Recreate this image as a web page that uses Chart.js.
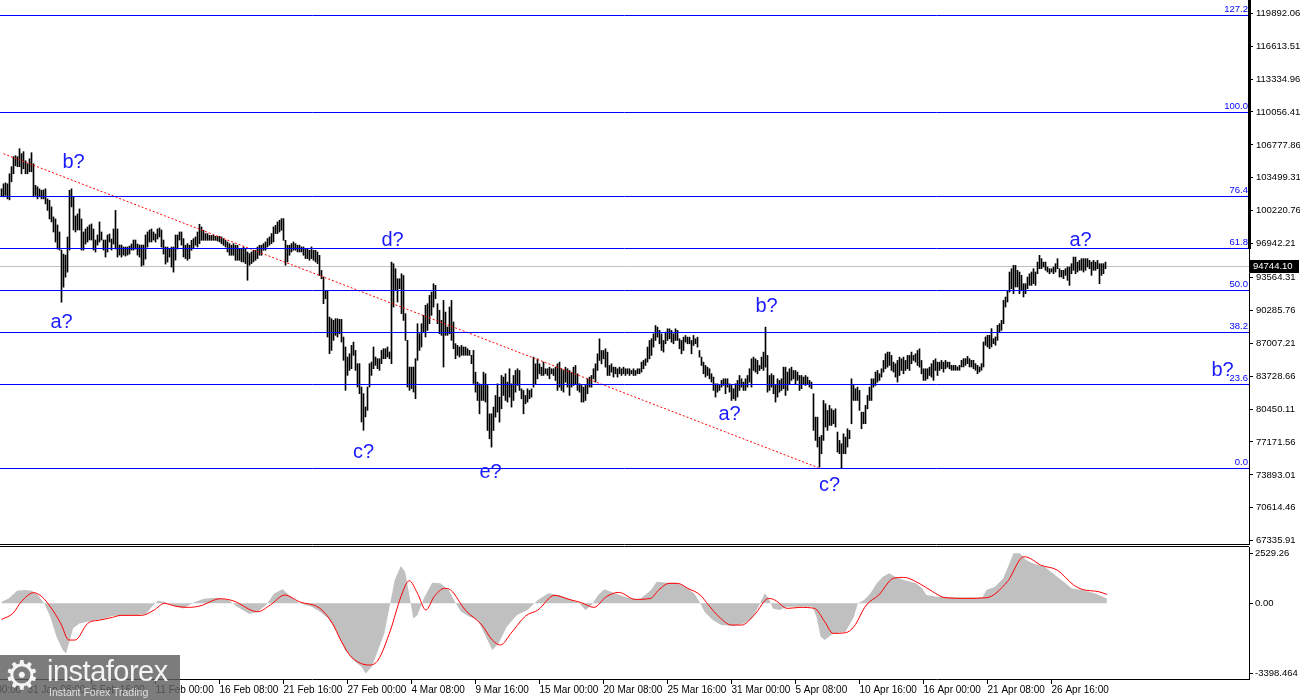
<!DOCTYPE html>
<html>
<head>
<meta charset="utf-8">
<script src="https://cdn.jsdelivr.net/npm/chart.js@4.4.1/dist/chart.umd.min.js"></script>
<style>
  html, body { margin: 0; padding: 0; background: #fff; }
  #wrap { position: relative; width: 1300px; height: 700px; overflow: hidden; }
  #main { position: absolute; left: 0; top: 0; }
  #macd { position: absolute; left: 0; top: 546px; }
  #logo { position: absolute; left: 0; top: 655px; width: 180px; height: 45px;
          background: rgba(95, 95, 95, 0.82); color: #eeeeee;
          font-family: "Liberation Sans", Arial, sans-serif; }
  #logo .gear { position: absolute; left: 4px; top: -3px; font-size: 40px; font-family: "DejaVu Sans", sans-serif; color: #f4f4f4; }
  #logo .name { position: absolute; left: 47px; top: 0px; font-size: 29px; letter-spacing: -0.5px; color: #f4f4f4; }
  #logo .sub { position: absolute; left: 49px; top: 31px; font-size: 10.5px; color: #e0e0e0; }
</style>
</head>
<body>
<div id="wrap">
  <canvas id="main" width="1300" height="546"></canvas>
  <canvas id="macd" width="1300" height="154"></canvas>
  <div id="logo"><span class="gear">⚙</span><span class="name">instaforex</span><span class="sub">Instant Forex Trading</span></div>
</div>
<script>
// H4 bars, prices in thousands (one value per bar)
const highs = [
  102.4, 102.9, 103.0, 102.9, 103.9, 104.6, 105.6, 105.7, 105.6, 106.4,
  105.9, 106.1, 105.2, 104.9, 105.4, 106.0, 104.9, 102.75, 102.6, 102.4,
  102.25, 102.3, 102.4, 101.4, 101.25, 100.6, 99.6, 99.4, 98.8, 98.1,
  96.3, 95.9, 95.8, 97.6, 102.25, 102.4, 101.6, 99.7, 99.9, 100.4,
  99.4, 98.1, 98.4, 98.6, 98.8, 98.9, 98.4, 97.3, 97.8, 99.1,
  98.1, 97.3, 97.3, 97.8, 97.9, 97.4, 98.4, 100.25, 98.4, 96.8,
  96.8, 96.6, 96.6, 96.6, 96.7, 96.9, 97.3, 97.3, 96.9, 96.8,
  96.8, 96.8, 97.8, 98.1, 98.3, 98.4, 98.1, 97.9, 98.4, 98.5,
  98.3, 97.3, 96.6, 96.6, 96.4, 96.6, 96.6, 97.8, 97.8, 98.1,
  98.1, 97.44, 96.78, 96.94, 96.78, 97.27, 97.44, 97.61, 98.1, 98.87,
  98.6, 98.27, 97.94, 97.94, 97.77, 97.77, 97.77, 97.67, 97.67, 97.67,
  97.61, 97.44, 97.27, 97.11, 96.94, 96.78, 96.94, 96.78, 96.78, 96.44,
  96.44, 96.61, 96.44, 96.11, 95.95, 96.11, 96.28, 96.28, 96.61, 96.78,
  96.78, 96.94, 97.11, 97.44, 97.61, 97.94, 98.6, 98.77, 99.1, 99.27,
  99.43, 99.43, 97.27, 96.78, 96.78, 96.94, 97.11, 96.94, 96.78, 96.78,
  96.61, 96.61, 96.44, 96.44, 96.28, 96.61, 96.28, 96.28, 96.11, 95.77,
  94.27, 93.61, 92.28, 92.28, 89.62, 89.46, 89.29, 89.46, 89.46, 89.39,
  89.39, 87.63, 86.64, 85.64, 85.97, 86.8, 87.13, 86.3, 84.98, 84.98,
  82.65, 81.99, 80.66, 82.65, 84.98, 85.14, 86.64, 85.64, 85.47, 85.47,
  86.3, 86.47, 86.47, 86.64, 86.14, 95.1, 94.94, 94.44, 93.44, 93.44,
  93.94, 93.77, 89.96, 87.3, 84.64, 84.64, 84.64, 85.47, 88.96, 87.96,
  88.96, 89.79, 90.79, 90.95, 91.78, 92.11, 92.94, 92.78, 90.95, 90.29,
  89.29, 91.28, 90.12, 88.63, 90.62, 91.28, 89.13, 86.97, 86.8, 86.64,
  86.8, 86.64, 86.64, 86.47, 86.3, 85.81, 86.3, 84.13, 83.14, 82.97,
  82.81, 84.13, 83.97, 82.81, 79.98, 79.98, 80.65, 81.81, 82.97, 81.64,
  83.8, 83.64, 83.97, 83.14, 84.47, 82.97, 83.8, 84.3, 84.47, 84.3,
  82.47, 82.31, 81.81, 82.47, 82.31, 82.47, 85.63, 84.96, 85.46, 84.96,
  84.63, 85.13, 84.47, 84.47, 84.63, 84.47, 84.47, 84.63, 84.96, 85.13,
  84.47, 84.3, 84.63, 84.47, 84.3, 84.13, 84.63, 84.8, 83.97, 82.97,
  82.81, 82.64, 82.81, 83.47, 83.64, 83.8, 84.47, 84.96, 85.96, 87.45,
  86.29, 86.29, 86.46, 86.13, 84.8, 84.96, 84.63, 84.63, 84.47, 84.63,
  84.47, 84.63, 84.47, 84.47, 84.47, 84.3, 84.47, 84.3, 84.47, 84.47,
  85.13, 85.3, 85.46, 86.63, 87.29, 87.46, 87.95, 88.78, 88.62, 88.29,
  87.95, 87.29, 88.12, 88.45, 88.45, 88.29, 87.95, 88.45, 88.29, 87.46,
  87.29, 87.62, 87.79, 87.62, 87.62, 87.29, 87.79, 87.46, 87.62, 86.29,
  85.63, 85.13, 84.8, 84.63, 84.47, 83.97, 83.64, 82.97, 82.97, 82.81,
  83.31, 83.47, 83.47, 83.47, 82.97, 82.81, 82.48, 82.97, 83.31, 83.8,
  83.47, 83.14, 83.47, 83.8, 84.47, 85.46, 85.63, 85.46, 85.3, 84.8,
  85.63, 86.13, 88.62, 85.8, 83.8, 83.97, 83.8, 82.81, 83.47, 83.31,
  83.47, 84.63, 84.63, 84.14, 84.47, 84.63, 84.3, 84.3, 84.14, 83.8,
  83.8, 83.64, 83.8, 83.64, 83.31, 83.14, 81.98, 79.65, 79.65, 77.66,
  77.83, 81.31, 80.98, 80.32, 80.82, 80.48, 80.32, 80.48, 78.16, 77.33,
  77.0, 77.99, 77.66, 78.49, 78.33, 83.47, 82.81, 82.48, 82.64, 82.31,
  80.15, 80.15, 80.82, 81.81, 82.64, 83.47, 83.47, 84.14, 84.3, 83.97,
  84.47, 85.3, 85.96, 86.13, 86.13, 85.8, 85.13, 84.97, 85.3, 85.63,
  85.46, 85.63, 85.3, 85.8, 85.8, 86.13, 85.8, 85.96, 86.29, 86.46,
  85.3, 84.47, 84.47, 84.47, 84.63, 84.97, 85.3, 85.46, 85.13, 85.13,
  85.3, 85.13, 85.3, 85.13, 85.13, 84.81, 84.81, 84.81, 84.65, 84.81,
  85.31, 85.48, 85.48, 85.71, 85.48, 85.31, 85.31, 84.98, 84.81, 84.65,
  84.98, 87.14, 87.64, 87.8, 87.8, 88.47, 87.47, 87.64, 88.8, 88.96,
  89.3, 91.29, 91.62, 92.28, 94.11, 94.44, 94.77, 94.77, 94.28, 94.11,
  93.78, 92.95, 92.95, 93.61, 93.94, 94.11, 94.44, 94.11, 95.1, 95.77,
  95.44, 95.1, 95.1, 94.61, 94.44, 94.44, 94.61, 94.94, 95.44, 94.44,
  94.28, 94.28, 94.44, 94.61, 94.61, 94.94, 95.6, 95.6, 95.1, 95.27,
  95.44, 95.44, 95.44, 95.44, 95.27, 95.1, 95.27, 95.1, 95.27, 94.94,
  94.94, 94.94, 95.1
];
const lows = [
  101.65, 101.6, 101.75, 101.4, 101.3, 103.1, 103.9, 104.7, 104.6, 104.6,
  103.9, 104.4, 103.9, 103.9, 104.1, 104.1, 101.6, 101.75, 101.4, 101.6,
  101.4, 101.4, 100.9, 100.25, 99.4, 99.1, 98.1, 97.1, 96.4, 96.3,
  91.1, 92.6, 93.6, 94.1, 96.3, 100.6, 98.3, 98.1, 98.3, 98.3,
  96.3, 96.3, 96.9, 97.1, 97.3, 97.3, 96.3, 96.1, 96.8, 97.1,
  97.3, 96.3, 95.6, 96.1, 97.1, 96.3, 96.9, 96.4, 95.6, 95.8,
  95.6, 95.8, 95.7, 95.8, 95.9, 96.3, 96.3, 96.4, 95.8, 95.6,
  94.7, 94.8, 95.4, 96.6, 97.1, 97.1, 97.3, 97.1, 97.4, 97.6,
  96.6, 95.9, 94.9, 95.1, 95.6, 94.6, 94.1, 95.3, 96.4, 97.3,
  96.8, 95.61, 95.45, 95.28, 95.45, 96.28, 96.44, 96.78, 96.61, 96.94,
  97.27, 97.27, 97.27, 97.27, 97.27, 97.27, 97.27, 97.27, 97.2, 97.11,
  96.94, 96.78, 96.61, 96.11, 95.78, 95.78, 95.78, 95.28, 95.28, 95.28,
  95.12, 95.12, 94.95, 93.29, 94.78, 94.95, 95.12, 95.28, 95.45, 95.78,
  95.78, 96.28, 96.28, 96.61, 96.78, 96.94, 97.11, 97.94, 97.94, 98.1,
  98.27, 97.27, 94.78, 95.12, 95.78, 96.11, 96.28, 96.28, 96.11, 96.11,
  96.11, 95.78, 95.45, 95.45, 95.28, 95.45, 95.28, 95.12, 94.95, 93.77,
  93.44, 90.95, 91.45, 87.63, 85.97, 86.3, 87.3, 87.8, 87.63, 87.96,
  87.13, 85.31, 82.32, 83.81, 84.31, 84.48, 85.81, 84.31, 82.65, 81.99,
  79.17, 78.34, 79.67, 80.33, 82.65, 83.81, 84.48, 84.81, 84.48, 84.31,
  84.98, 85.47, 85.47, 85.64, 85.47, 84.98, 90.62, 92.28, 91.12, 92.45,
  89.96, 89.29, 87.3, 82.65, 82.32, 82.49, 82.15, 81.49, 85.31, 86.3,
  86.64, 88.13, 87.63, 88.3, 88.96, 89.79, 90.62, 91.45, 88.96, 87.96,
  87.8, 84.64, 87.8, 87.8, 87.96, 87.3, 86.47, 85.47, 85.81, 85.64,
  85.81, 85.81, 85.81, 85.81, 85.81, 84.98, 83.0, 82.14, 81.31, 79.98,
  81.31, 81.31, 81.15, 78.32, 77.49, 76.66, 78.32, 79.65, 80.15, 79.15,
  80.48, 81.81, 81.31, 81.15, 81.64, 80.65, 81.31, 82.14, 82.81, 82.31,
  81.48, 79.98, 80.98, 81.15, 81.48, 81.64, 82.64, 82.97, 83.47, 83.97,
  83.8, 83.8, 83.97, 83.8, 83.47, 83.97, 83.8, 83.3, 82.31, 82.64,
  82.31, 82.14, 83.14, 82.64, 81.81, 82.64, 82.81, 82.97, 82.31, 82.14,
  81.15, 81.15, 81.31, 81.98, 82.64, 82.64, 83.47, 83.14, 84.3, 85.3,
  84.96, 85.46, 84.63, 83.8, 83.8, 84.13, 83.64, 83.97, 83.64, 83.97,
  83.8, 83.97, 83.8, 83.97, 83.8, 83.97, 83.8, 83.8, 83.97, 83.97,
  84.14, 84.47, 84.8, 85.13, 85.46, 85.8, 86.63, 87.29, 87.62, 86.96,
  86.29, 86.13, 86.96, 87.29, 87.46, 87.12, 86.96, 87.29, 87.29, 86.46,
  85.96, 86.29, 87.12, 86.96, 86.96, 85.96, 86.79, 86.96, 86.63, 85.63,
  84.8, 83.97, 83.64, 83.8, 83.47, 83.14, 82.31, 81.65, 82.14, 82.31,
  82.64, 82.81, 81.98, 82.64, 82.14, 81.31, 81.48, 81.31, 81.65, 82.31,
  82.64, 82.31, 82.31, 82.64, 83.14, 82.64, 84.3, 84.14, 83.97, 84.3,
  84.47, 84.3, 84.63, 82.14, 82.31, 82.64, 81.98, 81.15, 81.65, 82.14,
  82.31, 82.48, 81.81, 82.31, 82.97, 83.31, 83.47, 82.97, 83.31, 82.31,
  82.48, 82.97, 82.81, 82.97, 82.64, 82.48, 78.33, 77.33, 76.67, 74.67,
  76.0, 77.33, 78.66, 78.33, 78.82, 78.82, 78.99, 78.66, 76.17, 76.0,
  74.51, 76.0, 76.0, 76.67, 77.5, 78.99, 81.31, 81.31, 81.31, 80.32,
  78.49, 78.99, 78.99, 80.48, 81.31, 81.31, 82.64, 82.81, 83.14, 83.31,
  83.64, 84.14, 84.47, 84.63, 84.8, 84.3, 84.14, 83.64, 83.14, 83.8,
  84.3, 83.97, 84.3, 84.47, 84.3, 84.97, 85.3, 85.13, 84.8, 84.63,
  83.97, 83.31, 83.31, 83.47, 83.8, 83.64, 83.31, 84.3, 83.8, 84.3,
  84.47, 84.14, 84.47, 84.63, 84.47, 84.32, 84.32, 84.32, 84.32, 84.32,
  84.65, 84.65, 84.81, 84.98, 84.65, 84.65, 84.48, 84.32, 83.98, 84.15,
  84.32, 84.65, 86.81, 86.64, 86.47, 86.64, 86.97, 86.81, 87.3, 88.13,
  88.3, 88.96, 90.62, 91.12, 92.12, 92.45, 91.95, 92.62, 92.62, 91.95,
  92.28, 91.62, 91.95, 92.45, 92.78, 92.78, 92.95, 92.78, 93.94, 94.44,
  94.44, 94.61, 94.28, 94.11, 93.94, 94.11, 93.94, 94.11, 94.44, 93.61,
  93.61, 93.45, 93.78, 93.28, 92.78, 93.94, 94.28, 93.94, 94.11, 94.28,
  94.28, 94.11, 94.28, 94.61, 94.44, 93.78, 94.28, 94.28, 94.44, 92.95,
  93.78, 93.94, 94.44
];

const priceTicks = [67335.91, 70614.46, 73893.01, 77171.56, 80450.11, 83728.66, 87007.21,
  90285.76, 93564.31, 96942.21, 100220.76, 103499.31, 106777.86, 110056.41,
  113334.96, 116613.51, 119892.06];
const tickBars = [-19, 13, 45, 77, 109, 141, 173, 205, 237, 269, 301, 333, 365, 397, 429, 461, 493, 525];
const tickLabels = ['26 Jan 00:00', '31 Jan 08:00', '5 Feb 16:00', '11 Feb 00:00', '16 Feb 08:00',
  '21 Feb 16:00', '27 Feb 00:00', '4 Mar 08:00', '9 Mar 16:00', '15 Mar 00:00', '20 Mar 08:00',
  '25 Mar 16:00', '31 Mar 00:00', '5 Apr 08:00', '10 Apr 16:00', '16 Apr 00:00', '21 Apr 08:00',
  '26 Apr 16:00'];

const fibLevels = ['0.0', '23.6', '38.2', '50.0', '61.8', '76.4', '100.0', '127.2'];
const fibPrices = [74550, 82923, 88103, 92290, 96477, 101657, 110030, 119681];
const bidPrice = 94744.10;

const trendBars = [1, 408.5];
const trendPrices = [105900, 74600];

const waveText = ['b?', 'a?', 'd?', 'c?', 'e?', 'b?', 'a?', 'c?', 'a?', 'b?'];
const waveBar = [36, 30, 195.5, 181, 244.5, 382.5, 364, 414, 539.5, 610.5];
const wavePrice = [105000, 89100, 97270, 76140, 74150, 90700, 79930, 72860, 97270, 84320];

// MACD main (histogram) and signal, [bar, value]
const macdHist = [
  [0, 72], [3.6, 222], [7.8, 567], [12, 597], [15.1, 567], [18.2, 372], [21.3, -2], [24.4, -601],
  [27.5, -1499], [30.6, -2098], [32.3, -2248], [33.7, -1799], [35.8, -1125], [38.9, -901],
  [43.1, -826], [49.3, -721], [55.5, -571], [61.7, -541], [68, -526], [72.1, -481], [75.2, -152],
  [78.3, 117], [81.5, 72], [84.6, -77], [90.8, -227], [97, 72], [101.2, 207], [107.4, 252],
  [113.6, 147], [117.8, -152], [124, -481], [128.1, -377], [132.3, -77], [136.4, 447], [140.6, 627],
  [144.7, 297], [148.9, -2], [155.1, -152], [159.2, -377], [163.4, -676], [167.6, -1275],
  [171.7, -2098], [175.8, -2547], [180, -2846], [182.1, -3146], [185.2, -2846], [188.3, -2098],
  [191.4, -1350], [194.5, 72], [196.6, 1046], [199.7, 1674], [201.8, 1420], [203.9, 372],
  [205.9, -676], [208, -526], [211.1, 222], [215.3, 926], [219.4, 896], [223.6, 597], [226.7, 72],
  [229.8, -377], [234, -601], [238.1, -751], [242.2, -1499], [245.4, -2098], [248.5, -1799],
  [252.6, -1050], [257.8, -526], [263, -302], [268.2, 147], [273.4, 447], [278.5, 372],
  [283.7, 222], [288.9, -2], [292, -302], [295.1, -77], [298.3, 372], [301.4, 627], [306.6, 447],
  [312.8, 267], [319, 177], [324.8, 600], [327.6, 971], [332.8, 926], [337, 926], [342.1, 746],
  [346.3, 447], [349.4, -2], [351.5, -377], [355.6, -751], [359.8, -975], [366, -1020],
  [371.2, -901], [375.3, -676], [378.9, -77], [381.6, 447], [383.6, 222], [385.7, -227],
  [388.8, -302], [393, -152], [399.2, -152], [405.4, -152], [407.5, -601], [409.6, -1499],
  [411.6, -1649], [415.8, -1350], [422, -1275], [426.2, -601], [428.2, -2], [431.3, 147],
  [434.5, 447], [437.6, 896], [440.7, 1195], [443.8, 1345], [446.9, 1195], [451.1, 1046],
  [457.3, 896], [460.4, 671], [462.5, 372], [467.7, 297], [480.1, 267], [490.5, 267],
  [492.5, 597], [496.7, 746], [500.8, 1120], [504, 1794], [506, 2243], [509.2, 2243],
  [512.3, 1944], [515.4, 1794], [521.6, 1644], [527.8, 1195], [532, 896], [535.1, 671],
  [540.3, 597], [546.5, 447], [552.7, 222]
];
const macdSignal = [
  [0, -721], [5.7, -451], [9.9, 72], [16.1, 477], [20.2, 297], [24.4, -152], [29.6, -901],
  [33.7, -1649], [36.8, -1649], [43.1, -901], [49.3, -751], [55.5, -631], [59.7, -541],
  [70, -541], [76.3, -302], [81.5, -2], [86.6, -122], [92.9, -182], [99.1, -122], [109.5, 207],
  [115.7, 117], [128.1, -377], [134.4, -77], [141.6, 372], [148.9, 73], [159.2, -227],
  [165.5, -901], [169.6, -1649], [174.8, -2398], [184.1, -2772], [188.3, -2547], [194.5, -1200],
  [199.7, 297], [203.9, 1016], [208, 447], [212.2, -302], [216.3, 297], [221.5, 671],
  [224.6, 597], [231.9, -302], [240.2, -975], [245.4, -1649], [249.5, -1873], [254.7, -1350],
  [262, -571], [268.2, -302], [276.5, 357], [283.7, 177], [290, 28], [296.2, -182], [302.4, 297],
  [308.6, 492], [316.9, 177], [324.5, 222], [328.6, 597], [333.8, 896], [338, 896], [343.2, 671],
  [349.4, 372], [353.5, -77], [358.7, -601], [365, -975], [370.1, -975], [376.4, -526],
  [383.6, 222], [386.7, 147], [393, -227], [399.2, -182], [406.5, -227], [411.6, -826],
  [415.8, -1350], [422, -1320], [426.2, -1050], [432.4, -77], [438.6, 372], [445.9, 1120],
  [451.1, 1165], [459.4, 866], [465.6, 522], [471.8, 252], [482.2, 222], [492.5, 252],
  [502.9, 971], [511.2, 2094], [514.3, 2019], [519.5, 1719], [527.8, 1495], [536.1, 821],
  [540.3, 627], [548.6, 522], [552.7, 402]
];
const macdTickVals = [2529.26, 0, -3398.464];
const macdTickLabels = ['2529.26', '0.00', '-3398.464'];

// pick the narrow axis font if it exists
const probe = document.createElement('canvas').getContext('2d');
probe.font = '40px "Liberation Sans Narrow", monospace';
const wNarrow = probe.measureText('0123456789').width;
probe.font = '40px monospace';
const hasNarrow = Math.abs(wNarrow - probe.measureText('0123456789').width) > 1;
const axisFamily = hasNarrow ? '"Liberation Sans Narrow", "Liberation Sans"' : '"Liberation Sans", Arial';
const axisSize = hasNarrow ? 11 : 9.5;
const axisFont = axisSize + 'px ' + axisFamily;

const xMin = -0.75, xMax = 623.75;

const mainOverlay = {
  id: 'mainOverlay',
  beforeDatasetsDraw(chart) {
    const { ctx, chartArea: a, scales: { y } } = chart;
    const by = Math.round(y.getPixelForValue(bidPrice)) + 0.5;
    ctx.save();
    ctx.strokeStyle = '#c0c0c0';
    ctx.lineWidth = 1;
    ctx.beginPath(); ctx.moveTo(a.left, by); ctx.lineTo(a.right, by); ctx.stroke();
    ctx.restore();
  },
  afterDatasetsDraw(chart) {
    const { ctx, chartArea: a, scales: { x, y } } = chart;
    ctx.save();
    // fibonacci levels
    ctx.strokeStyle = '#0000ff';
    ctx.fillStyle = '#0000ff';
    ctx.lineWidth = 1;
    ctx.font = axisFont;
    ctx.textAlign = 'right';
    ctx.textBaseline = 'bottom';
    fibPrices.forEach((p, k) => {
      const py = Math.round(y.getPixelForValue(p)) + 0.5;
      ctx.beginPath(); ctx.moveTo(a.left, py); ctx.lineTo(a.right, py); ctx.stroke();
      ctx.fillText(fibLevels[k], a.right - 1, py - 1);
    });
    // wave labels
    ctx.fillStyle = '#1a1aff';
    ctx.font = '20px "Liberation Sans", Arial, sans-serif';
    ctx.textAlign = 'center';
    ctx.textBaseline = 'middle';
    waveText.forEach((t, k) => {
      ctx.fillText(t, x.getPixelForValue(waveBar[k]), y.getPixelForValue(wavePrice[k]));
    });
    // bottom border of the price window
    ctx.strokeStyle = '#000';
    ctx.beginPath(); ctx.moveTo(0, a.bottom + 0.5); ctx.lineTo(a.right, a.bottom + 0.5); ctx.stroke();
    ctx.restore();
  },
  afterDraw(chart) {
    const { ctx, chartArea: a, scales: { y } } = chart;
    const by = Math.round(y.getPixelForValue(bidPrice));
    ctx.save();
    ctx.fillStyle = '#000';
    ctx.fillRect(a.right - 1, 0, 3, by - 17);
    ctx.fillRect(a.right + 1, by - 6, 49, 13);
    ctx.fillStyle = '#fff';
    ctx.font = axisFont;
    ctx.textAlign = 'left';
    ctx.textBaseline = 'middle';
    ctx.fillText(bidPrice.toFixed(2), a.right + 4, by + 0.5);
    ctx.restore();
  }
};

new Chart(document.getElementById('main'), {
  type: 'bar',
  data: {
    datasets: [
      {
        type: 'bar',
        data: highs.map((h, i) => ({ x: i, y: [lows[i] * 1000, h * 1000] })),
        backgroundColor: '#000',
        borderWidth: 0,
        barThickness: 1,
        order: 2
      },
      {
        type: 'line',
        data: trendBars.map((b, i) => ({ x: b, y: trendPrices[i] })),
        borderColor: '#ff0000',
        borderWidth: 1,
        borderDash: [2, 2],
        pointRadius: 0,
        fill: false,
        order: 1
      }
    ]
  },
  options: {
    responsive: false,
    animation: false,
    devicePixelRatio: 1,
    layout: { padding: { top: 0, bottom: 2, left: 0, right: 0 } },
    plugins: { legend: { display: false }, tooltip: { enabled: false } },
    scales: {
      x: { type: 'linear', min: xMin, max: xMax, offset: false, display: false },
      y: {
        position: 'right',
        min: 67007, max: 121217,
        afterBuildTicks: s => { s.ticks = priceTicks.map(v => ({ value: v })); },
        afterFit: s => { s.width = 51; s.paddingTop = 0; s.paddingBottom = 0; },
        ticks: { color: '#000', font: { family: axisFamily, size: axisSize }, padding: 3,
                 autoSkip: false, callback: v => v.toFixed(2) },
        grid: { drawOnChartArea: false, drawTicks: true, tickLength: 4, color: '#000' },
        border: { color: '#000', width: 1 }
      }
    }
  },
  plugins: [mainOverlay]
});

const macdOverlay = {
  id: 'macdOverlay',
  afterDraw(chart) {
    const { ctx, chartArea: a, scales: { y } } = chart;
    ctx.save();
    ctx.strokeStyle = '#000';
    ctx.lineWidth = 1;
    ctx.beginPath(); ctx.moveTo(0, a.top - 0.5); ctx.lineTo(a.right, a.top - 0.5); ctx.stroke();
    ctx.fillStyle = '#000';
    ctx.font = axisFont;
    ctx.textAlign = 'left';
    ctx.textBaseline = 'middle';
    macdTickVals.forEach((v, k) => {
      let py = y.getPixelForValue(v);
      if (k === 0) py += 6;
      if (k === macdTickVals.length - 1) py -= 6;
      py = Math.round(py) + 0.5;
      ctx.beginPath(); ctx.moveTo(a.right, py); ctx.lineTo(a.right + 4, py); ctx.stroke();
      ctx.fillText(macdTickLabels[k], a.right + 6, py);
    });
    ctx.restore();
  }
};

new Chart(document.getElementById('macd'), {
  type: 'line',
  data: {
    datasets: [
      {
        data: macdSignal.map(p => ({ x: p[0], y: p[1] })),
        borderColor: '#ff0000',
        borderWidth: 1,
        pointRadius: 0,
        cubicInterpolationMode: 'monotone',
        fill: false,
        order: 1
      },
      {
        data: macdHist.map(p => ({ x: p[0], y: p[1] })),
        borderWidth: 0,
        borderColor: 'rgba(0,0,0,0)',
        backgroundColor: '#c0c0c0',
        pointRadius: 0,
        tension: 0,
        fill: 'origin',
        order: 2
      }
    ]
  },
  options: {
    responsive: false,
    animation: false,
    devicePixelRatio: 1,
    layout: { padding: { top: 1, bottom: 0, left: 0, right: 0 } },
    plugins: { legend: { display: false }, tooltip: { enabled: false } },
    scales: {
      x: {
        type: 'linear', min: xMin, max: xMax, offset: false, position: 'bottom',
        afterBuildTicks: s => { s.ticks = tickBars.map(v => ({ value: v })); },
        afterFit: s => { s.height = 21; s.paddingLeft = 0; s.paddingRight = 0; },
        ticks: { color: '#000', font: { family: axisFamily, size: axisSize + 0.5 }, align: 'start',
                 padding: 0, autoSkip: false, maxRotation: 0, minRotation: 0,
                 callback: (v, i) => tickLabels[i] },
        grid: { drawOnChartArea: false, drawTicks: true, tickLength: 5, color: '#000' },
        border: { color: '#000', width: 1 }
      },
      y: {
        position: 'right',
        min: -3398.464, max: 2529.26,
        afterFit: s => { s.width = 51; s.paddingTop = 0; s.paddingBottom = 0; },
        ticks: { display: false },
        grid: { drawOnChartArea: false, drawTicks: false },
        border: { color: '#000', width: 1 }
      }
    }
  },
  plugins: [macdOverlay]
});
</script>
</body>
</html>
